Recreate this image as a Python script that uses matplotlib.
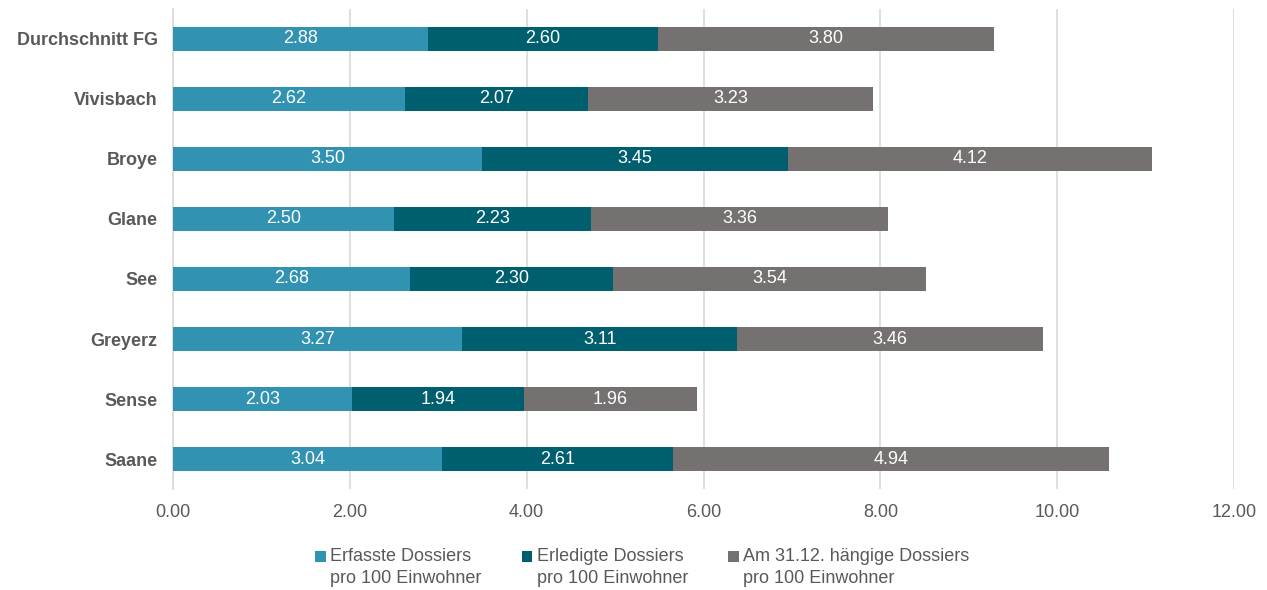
import matplotlib.pyplot as plt
import numpy as np

plt.rcParams['font.family'] = ['Liberation Sans', 'DejaVu Sans']

regionen = ['Durchschnitt FG', 'Vivisbach', 'Broye', 'Glane', 'See', 'Greyerz', 'Sense', 'Saane']
erfasst = [2.88, 2.62, 3.50, 2.50, 2.68, 3.27, 2.03, 3.04]
erledigt = [2.60, 2.07, 3.45, 2.23, 2.30, 3.11, 1.94, 2.61]
haengig = [3.80, 3.23, 4.12, 3.36, 3.54, 3.46, 1.96, 4.94]

reihen = [
    ('Erfasste Dossiers\npro 100 Einwohner', erfasst, '#3193b1'),
    ('Erledigte Dossiers\npro 100 Einwohner', erledigt, '#005f6e'),
    ('Am 31.12. hängige Dossiers\npro 100 Einwohner', haengig, '#767171'),
]

fig = plt.figure(figsize=(12.67, 5.9), dpi=100)
ax = fig.add_axes([0.1365, 0.171, 0.8375, 0.814])

y = np.arange(len(regionen))
links = np.zeros(len(regionen))
for name, werte, farbe in reihen:
    bars = ax.barh(y, werte, left=links, height=0.4, color=farbe, label=name, zorder=3)
    ax.bar_label(bars, labels=[f'{v:.2f}' for v in werte], label_type='center',
                 color='white', fontsize=13)
    links += np.array(werte)

ax.set_ylim(len(regionen) - 0.5, -0.5)
ax.set_xlim(0, 12)
ax.set_xticks(np.arange(0, 13, 2))
ax.set_xticklabels([f'{t:.2f}' for t in np.arange(0, 13, 2)])
ax.set_yticks(y)
ax.set_yticklabels(regionen, fontweight='bold')
ax.tick_params(axis='both', length=0, labelsize=13, colors='#595959')
ax.tick_params(axis='x', pad=11)
ax.tick_params(axis='y', pad=11)
ax.grid(axis='x', color='#d9d9d9', linewidth=1.2, zorder=0)
for s in ['top', 'right', 'bottom']:
    ax.spines[s].set_visible(False)
ax.spines['left'].set_color('#d9d9d9')
ax.spines['left'].set_linewidth(1.2)

leg = fig.legend(loc='lower center', bbox_to_anchor=(0.507, -0.022), ncol=3, frameon=False,
                 fontsize=13, handlelength=0.6, handleheight=0.6, handletextpad=0.25,
                 columnspacing=2.2, labelcolor='#595959')
for t in leg.get_texts():
    t.set_linespacing(1.35)
# Marker auf Höhe der ersten Textzeile
for h in leg.legend_handles:
    h.set_y(h.get_y() + 8)

fig.savefig('out.png', dpi=100)
